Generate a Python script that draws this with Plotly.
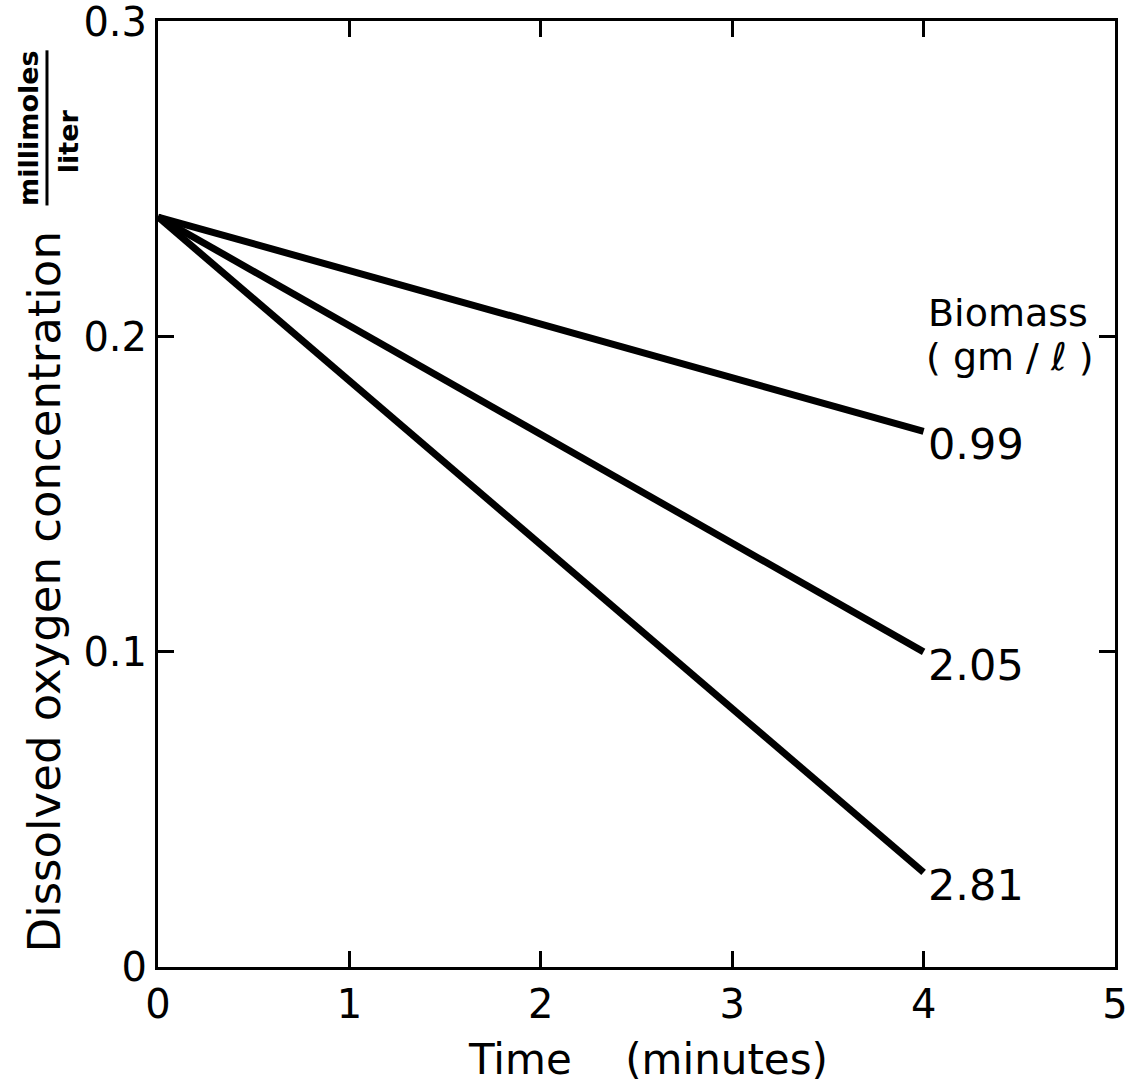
import plotly.graph_objects as go

# ---- data ----
time_min = [0, 4]
biomass_labels = ["0.99", "2.05", "2.81"]
conc_099 = [0.238, 0.170]
conc_205 = [0.238, 0.100]
conc_281 = [0.238, 0.030]
series = [conc_099, conc_205, conc_281]

x_ticks = [0, 1, 2, 3, 4, 5]
x_ticktext = ["0", "1", "2", "3", "4", "5"]
y_ticks = [0, 0.1, 0.2, 0.3]
y_ticktext = ["0", "0.1", "0.2", "0.3"]

FONT = "DejaVu Sans"

fig = go.Figure()
for lab, vals in zip(biomass_labels, series):
    fig.add_trace(go.Scatter(x=time_min, y=vals, mode="lines",
                             line=dict(color="black", width=7),
                             name=lab, showlegend=False))

annotations = []
for lab, vals in zip(biomass_labels, series):
    annotations.append(dict(x=time_min[-1], y=vals[-1], xref="x", yref="y",
                            text=lab, showarrow=False, xanchor="left",
                            yanchor="middle", xshift=2, yshift=-13,
                            font=dict(family=FONT, size=43, color="black")))

annotations += [
    dict(x=4.44, y=0.2074, xref="x", yref="y", text="Biomass", showarrow=False,
         xanchor="center", yanchor="middle",
         font=dict(family=FONT, size=38, color="black")),
    dict(x=4.45, y=0.1935, xref="x", yref="y", text="(\u00a0gm\u00a0/\u00a0\u2113\u00a0)",
         showarrow=False, xanchor="center", yanchor="middle",
         font=dict(family=FONT, size=38, color="black")),
    dict(x=-0.119, y=0.396, xref="paper", yref="paper",
         text="Dissolved oxygen concentration", textangle=-90, showarrow=False,
         xanchor="center", yanchor="middle",
         font=dict(family=FONT, size=45, color="black")),
    dict(x=-0.1348, y=0.887, xref="paper", yref="paper", text="<b>millimoles</b>",
         textangle=-90, showarrow=False, xanchor="center", yanchor="middle",
         font=dict(family=FONT, size=27, color="black")),
    dict(x=-0.094, y=0.873, xref="paper", yref="paper", text="<b>liter</b>",
         textangle=-90, showarrow=False, xanchor="center", yanchor="middle",
         font=dict(family=FONT, size=27, color="black")),
    dict(x=0.512, y=-0.0983, xref="paper", yref="paper",
         text="Time\u00a0\u00a0\u00a0\u00a0(minutes)", showarrow=False,
         xanchor="center", yanchor="middle",
         font=dict(family=FONT, size=42, color="black")),
]

fig.update_layout(
    width=1129, height=1092,
    margin=dict(l=158, r=14, t=21, b=125),
    paper_bgcolor="white", plot_bgcolor="white",
    annotations=annotations,
    shapes=[dict(type="line", xref="paper", yref="paper",
                 x0=-0.116, x1=-0.116, y0=0.805, y1=0.969,
                 line=dict(color="black", width=3))],
)
fig.update_xaxes(range=[0, 5], tickvals=x_ticks, ticktext=x_ticktext,
                 ticks="inside", ticklen=16, tickwidth=3, tickcolor="black",
                 showline=True, linewidth=3, linecolor="black", mirror="allticks",
                 showgrid=False, zeroline=False, automargin=False,
                 ticklabeloverflow="allow",
                 tickfont=dict(family=FONT, size=40, color="black"))
fig.update_yaxes(range=[0, 0.3002], tickvals=y_ticks, ticktext=y_ticktext,
                 ticks="inside", ticklen=16, tickwidth=3, tickcolor="black",
                 showline=True, linewidth=3, linecolor="black", mirror="allticks",
                 showgrid=False, zeroline=False, automargin=False,
                 ticklabeloverflow="allow",
                 tickfont=dict(family=FONT, size=40, color="black"))

fig.write_html("out.html")
